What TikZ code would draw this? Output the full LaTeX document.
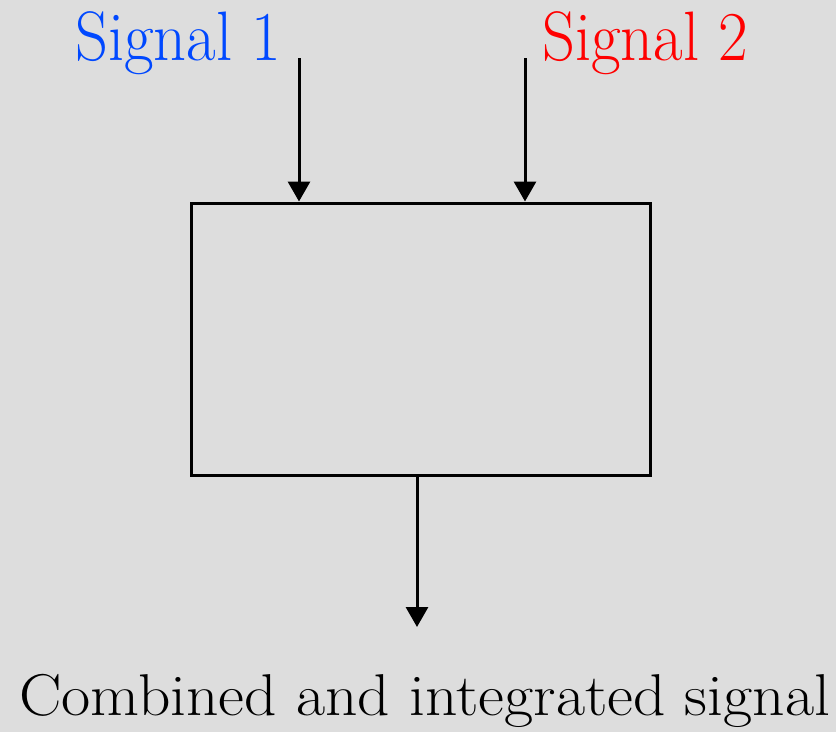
\documentclass[tikz,border=0pt]{standalone}
\usepackage{graphicx}
\usetikzlibrary{arrows.meta}
\definecolor{bg}{RGB}{221,221,221}
\definecolor{sigblue}{RGB}{0,72,255}
\definecolor{sigred}{RGB}{255,0,0}
\newcommand{\sigtext}[1]{\scalebox{0.92}[1]{\fontsize{70}{76}\selectfont #1}}
\begin{document}
\begin{tikzpicture}[x=1pt,y=-1pt,
  lbl/.style={inner sep=0pt,anchor=base west},
  blk/.style={draw,line width=3pt,minimum width=459pt,minimum height=272pt,inner sep=0pt},
  conn/.style={line width=3pt,-{Triangle[width=22pt,length=20pt]}}]
\fill[bg] (0,0) rectangle (836,732);
\useasboundingbox (0,0) rectangle (836,732);
\node[lbl,text=sigblue] (s1) at (75,60) {\sigtext{Signal 1}};
\node[lbl,text=sigred] (s2) at (542,60) {\sigtext{Signal 2}};
\node[blk] (box) at (420.5,339) {};
\node[lbl] (out) at (19,715) {\scalebox{1.076}[1]{\fontsize{59}{64}\selectfont Combined and integrated signal}};
\coordinate (a1) at (299,58);
\coordinate (a2) at (525,58);
\coordinate (b0) at (417,475);
\coordinate (b1) at (417,627);
\draw[conn] (a1) -- (a1 |- box.north);
\draw[conn] (a2) -- (a2 |- box.north);
\draw[conn] (b0 |- box.south) -- (b1);
\end{tikzpicture}
\end{document}
